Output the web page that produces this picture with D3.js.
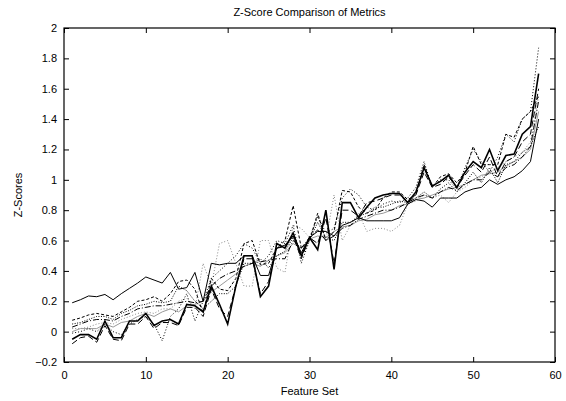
<!DOCTYPE html>
<html>
<head>
<meta charset="utf-8">
<script src="https://cdn.jsdelivr.net/npm/d3@7"></script>
<style>
  body { margin: 0; background: #fff; }
  text { font-family: "Liberation Sans", Arial, Helvetica, sans-serif; fill: #000; }
</style>
</head>
<body>
<script>
// chart values
const title = "Z-Score Comparison of Metrics";
const xLabel = "Feature Set";
const yLabel = "Z-Scores";
const xTicks = [0, 10, 20, 30, 40, 50, 60];
const yTicks = [-0.2, 0, 0.2, 0.4, 0.6, 0.8, 1, 1.2, 1.4, 1.6, 1.8, 2];

const seriesA = [0.19,0.21,0.235,0.23,0.245,0.21,0.25,0.285,0.32,0.36,0.34,0.32,0.39,0.28,0.29,0.39,0.2,0.45,0.44,0.45,0.45,0.5,0.5,0.37,0.37,0.55,0.57,0.63,0.52,0.62,0.66,0.66,0.63,0.7,0.72,0.75,0.73,0.73,0.73,0.73,0.75,0.84,0.87,0.86,0.82,0.88,0.88,0.88,0.92,0.94,0.95,1.0,0.97,1.0,1.02,1.06,1.12,1.4];
const seriesB = [-0.05,-0.02,-0.02,-0.05,0.07,-0.04,-0.04,0.07,0.07,0.12,0.04,0.07,0.08,0.05,0.18,0.17,0.13,0.3,0.18,0.05,0.3,0.5,0.5,0.23,0.3,0.58,0.55,0.65,0.5,0.62,0.54,0.8,0.41,0.85,0.85,0.75,0.82,0.88,0.9,0.91,0.91,0.85,0.92,1.08,0.96,0.99,1.03,0.95,1.05,1.12,1.08,1.2,1.06,1.16,1.17,1.3,1.35,1.7];
const seriesC = [0.075,0.09,0.11,0.12,0.11,0.1,0.13,0.16,0.2,0.21,0.23,0.2,0.25,0.33,0.34,0.28,0.12,0.35,0.28,0.27,0.35,0.58,0.6,0.44,0.45,0.55,0.6,0.83,0.55,0.6,0.78,0.6,0.66,0.93,0.92,0.82,0.78,0.8,0.88,0.92,0.92,0.87,0.9,1.1,0.95,1.02,1.04,0.98,1.05,1.22,1.1,1.1,1.1,1.3,1.28,1.4,1.45,1.55];
const seriesD = [-0.01,0.0,0.02,0.0,0.05,0.0,-0.02,0.05,0.08,0.1,0.05,-0.06,0.1,0.15,0.25,0.07,0.2,0.35,0.4,0.45,0.5,0.58,0.55,0.45,0.5,0.6,0.58,0.7,0.45,0.6,0.76,0.65,0.68,0.88,0.94,0.9,0.82,0.8,0.84,0.86,0.85,0.88,0.95,1.12,0.95,1.0,1.0,0.94,1.08,1.2,1.12,1.05,1.15,1.3,1.25,1.4,1.45,1.87];
const seriesE = [0.03,0.05,0.07,0.08,0.08,0.07,0.1,0.12,0.15,0.16,0.17,0.17,0.18,0.19,0.2,0.19,0.2,0.3,0.35,0.38,0.4,0.43,0.45,0.46,0.47,0.48,0.48,0.6,0.55,0.62,0.67,0.6,0.63,0.68,0.7,0.74,0.76,0.78,0.8,0.8,0.82,0.85,0.88,0.9,0.88,0.92,0.95,0.93,0.97,1.0,1.0,1.05,1.02,1.08,1.1,1.15,1.22,1.52];
const seriesF = [0.02,0.02,0.03,0.05,0.06,0.05,0.08,0.1,0.12,0.13,0.12,0.15,0.15,0.2,0.22,0.15,0.45,0.3,0.58,0.6,0.45,0.3,0.3,0.6,0.6,0.42,0.39,0.7,0.68,0.62,0.76,0.6,0.9,0.6,0.7,0.78,0.66,0.68,0.68,0.66,0.7,0.84,0.86,0.9,0.88,0.9,0.85,0.92,0.95,1.0,1.02,1.05,1.08,1.12,1.15,1.18,1.25,1.55];
const seriesG = [0.0,0.02,0.02,0.02,0.05,0.03,0.06,0.07,0.1,0.12,0.1,0.13,0.15,0.13,0.17,0.18,0.2,0.26,0.3,0.34,0.38,0.43,0.45,0.43,0.47,0.5,0.52,0.58,0.55,0.61,0.63,0.62,0.66,0.69,0.7,0.73,0.74,0.77,0.78,0.8,0.83,0.84,0.87,0.88,0.9,0.92,0.94,0.95,0.97,1.0,1.03,1.04,1.05,1.09,1.12,1.15,1.2,1.45];
const seriesH = [-0.08,-0.04,-0.03,-0.07,0.04,-0.05,-0.06,0.05,0.05,0.1,0.02,0.06,0.06,0.04,0.16,0.16,0.1,0.28,0.15,0.1,0.3,0.48,0.48,0.25,0.33,0.55,0.56,0.63,0.48,0.62,0.58,0.75,0.45,0.8,0.8,0.76,0.85,0.86,0.88,0.9,0.9,0.85,0.9,1.05,0.95,0.97,1.02,0.95,1.03,1.1,1.05,1.15,1.02,1.12,1.15,1.25,1.3,1.6];
const seriesI = [0.05,0.06,0.08,0.1,0.1,0.08,0.12,0.14,0.17,0.18,0.2,0.19,0.2,0.3,0.27,0.2,0.15,0.2,0.25,0.25,0.3,0.45,0.45,0.48,0.42,0.5,0.53,0.62,0.5,0.6,0.72,0.62,0.6,0.72,0.72,0.76,0.78,0.82,0.82,0.84,0.86,0.85,0.88,0.92,0.88,0.94,0.98,0.92,0.98,1.05,0.98,1.08,0.98,1.1,1.12,1.18,1.22,1.35];

const featureSets = seriesA.map((d, i) => i + 1);

const series = [
  { values: seriesF, color: "#888", width: 1, dash: "1,2" },
  { values: seriesG, color: "#999", width: 1, dash: null },
  { values: seriesI, color: "#000", width: 1, dash: "1,1.5" },
  { values: seriesE, color: "#000", width: 1, dash: "6,2,1,2" },
  { values: seriesH, color: "#000", width: 1, dash: "6,3" },
  { values: seriesC, color: "#000", width: 1, dash: "3,2" },
  { values: seriesD, color: "#000", width: 1, dash: "1,2" },
  { values: seriesA, color: "#000", width: 1, dash: null },
  { values: seriesB, color: "#000", width: 1.6, dash: null }
];

const W = 566, H = 401;
const margin = { top: 28, right: 11, bottom: 39, left: 64 };
const width = W - margin.left - margin.right,
  height = H - margin.top - margin.bottom;

const svg = d3.select("body").append("svg")
  .attr("width", W)
  .attr("height", H);

const g = svg.append("g")
  .attr("transform", "translate(" + margin.left + "," + margin.top + ")");

const x = d3.scaleLinear().domain([0, 60]).range([0, width]);
const y = d3.scaleLinear().domain([-0.2, 2]).range([height, 0]);

// axes with inward ticks (mirrored on top and right)
const tk = 5;
const xAxis = g.append("g")
  .attr("transform", "translate(0," + height + ")")
  .call(d3.axisBottom(x).tickValues(xTicks).tickSizeInner(-tk).tickSizeOuter(0).tickPadding(9));
const yAxis = g.append("g")
  .call(d3.axisLeft(y).tickValues(yTicks).tickFormat(d3.format("")).tickSizeInner(-tk).tickSizeOuter(0).tickPadding(7));
g.append("g")
  .call(d3.axisTop(x).tickValues(xTicks).tickSizeInner(-tk).tickSizeOuter(0).tickFormat(""));
g.append("g")
  .attr("transform", "translate(" + width + ",0)")
  .call(d3.axisRight(y).tickValues(yTicks).tickSizeInner(-tk).tickSizeOuter(0).tickFormat(""));

g.selectAll(".domain").remove();
g.selectAll(".tick line").attr("stroke", "#000").attr("stroke-width", 1);
g.selectAll(".tick text").style("font-size", "11px").style("font-family", "'Liberation Sans', Arial, sans-serif");

const line = d3.line()
  .x((d, i) => x(featureSets[i]))
  .y(d => y(d));

g.selectAll(".series")
  .data(series)
  .enter()
  .append("path")
  .attr("class", "series")
  .attr("fill", "none")
  .attr("stroke", d => d.color)
  .attr("stroke-width", d => d.width)
  .attr("stroke-dasharray", d => d.dash)
  .attr("stroke-linejoin", "miter")
  .attr("d", d => line(d.values));

// frame
g.append("rect")
  .attr("width", width)
  .attr("height", height)
  .attr("fill", "none")
  .attr("stroke", "#000")
  .attr("stroke-width", 1.2);

svg.append("text")
  .attr("x", margin.left + width / 2)
  .attr("y", 16)
  .attr("text-anchor", "middle")
  .style("font-size", "11px")
  .text(title);

svg.append("text")
  .attr("x", margin.left + width / 2)
  .attr("y", 395)
  .attr("text-anchor", "middle")
  .style("font-size", "11px")
  .text(xLabel);

svg.append("text")
  .attr("transform", "translate(22," + (margin.top + height / 2) + ") rotate(-90)")
  .attr("text-anchor", "middle")
  .style("font-size", "11px")
  .text(yLabel);
</script>
</body>
</html>
